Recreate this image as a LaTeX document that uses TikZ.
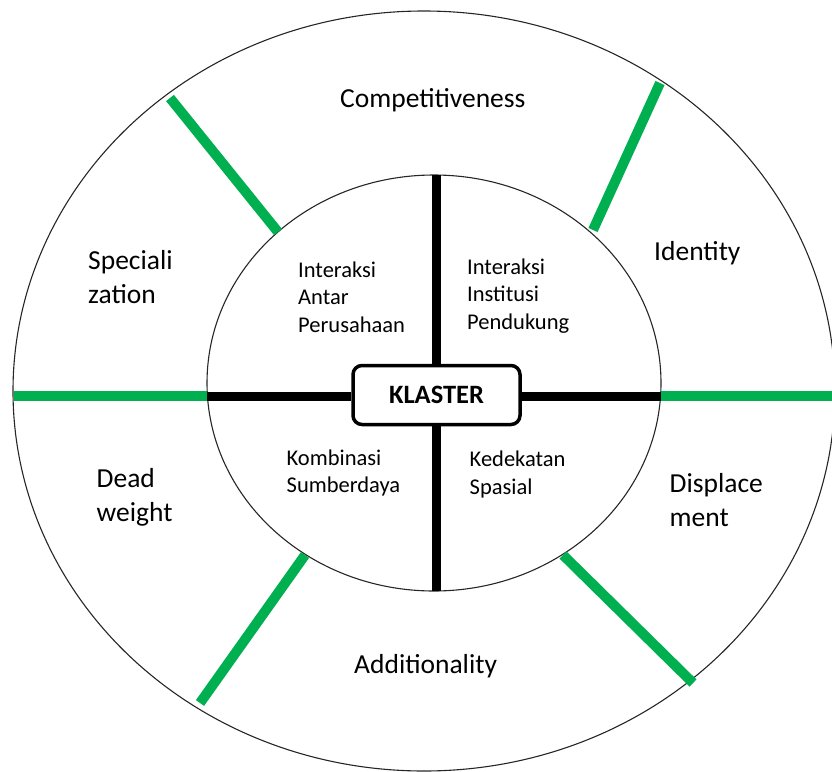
\documentclass[tikz,border=0pt]{standalone}
\usepackage{fontspec}
\setmainfont{Carlito}
\definecolor{kgreen}{HTML}{00B050}
\begin{document}
\begin{tikzpicture}[x=1pt,y=-1pt,
  ring/.style={draw=black!85, line width=1.1pt},
  spoke/.style={draw=kgreen, line width=10pt},
  axisline/.style={draw=black, line width=9pt},
  outerlbl/.style={font=\fontsize{27.5}{33.5}\selectfont, inner sep=0pt, align=left, anchor=base west},
  innerlbl/.style={font=\fontsize{22.5}{27.5}\selectfont, inner sep=0pt, align=left, anchor=base west},
  core/.style={draw=black, line width=3.5pt, rounded corners=9pt, fill=white,
    minimum width=167pt, minimum height=59pt, inner sep=0pt,
    font=\fontsize{26.5}{30}\selectfont\bfseries}]
\useasboundingbox (0,0) rectangle (832,771);
% rings
\draw[ring] (424,391) ellipse [x radius=411pt, y radius=380pt];
\draw[ring] (434,383) ellipse [x radius=227pt, y radius=208pt];
% spoke end points
\coordinate (o1) at (170,98);   \coordinate (i1) at (278,232);
\coordinate (o2) at (660,83);   \coordinate (i2) at (593,230);
\coordinate (o3) at (14,396);   \coordinate (i3) at (207,396);
\coordinate (o4) at (832,396);  \coordinate (i4) at (661,396);
\coordinate (o5) at (200,703);  \coordinate (i5) at (305,555);
\coordinate (o6) at (693,683);  \coordinate (i6) at (563,555);
\draw[spoke] (o1) -- (i1);
\draw[spoke] (o2) -- (i2);
\draw[spoke] (o3) -- (i3);
\draw[spoke] (o4) -- (i4);
\draw[spoke] (o5) -- (i5);
\draw[spoke] (o6) -- (i6);
% centre box
\node[core] (kl) at (436.5,395) {KLASTER};
\coordinate (vt) at (436,175);
\coordinate (vb) at (436,591);
\coordinate (hl) at (207,396);
\coordinate (hr) at (661,396);
\draw[axisline] (vt) -- (vt |- kl.north);
\draw[axisline] (kl.south -| vb) -- (vb);
\draw[axisline] (hl) -- (hl -| kl.west);
\draw[axisline] (kl.east |- hr) -- (hr);
% outer labels (anchor = baseline of last line)
\node[outerlbl] (comp) at (340,107) {Competitiveness};
\node[outerlbl] (spec) at (88,303) {Speciali\\zation};
\node[outerlbl] (iden) at (654,260) {Identity};
\node[outerlbl] (dead) at (96.5,521) {Dead\\weight};
\node[outerlbl] (disp) at (669.5,526) {Displace\\ment};
\node[outerlbl] (addi) at (354,673) {Additionality};
% inner labels
\node[innerlbl] (q1) at (298,332) {Interaksi\\Antar\\Perusahaan};
\node[innerlbl] (q2) at (467,329) {Interaksi\\Institusi\\Pendukung};
\node[innerlbl] (q3) at (286.5,492.5) {Kombinasi\\Sumberdaya};
\node[innerlbl] (q4) at (469.5,494) {Kedekatan\\Spasial};
\end{tikzpicture}
\end{document}
